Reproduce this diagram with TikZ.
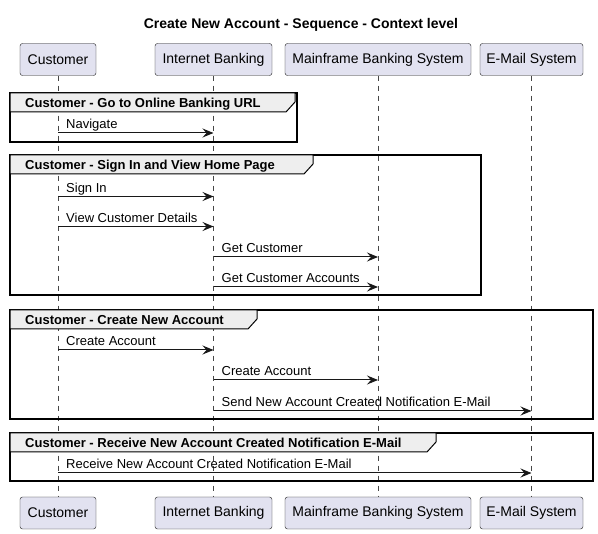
\documentclass[tikz,border=0pt]{standalone}
\usepackage{fontspec}
\setmainfont{Liberation Sans}
\usetikzlibrary{arrows.meta,positioning,calc}
\definecolor{partfill}{HTML}{E2E2F0}
\definecolor{partline}{HTML}{181818}
\definecolor{tabfill}{HTML}{EEEEEE}
\tikzset{
  participant/.style={draw=partline, fill=partfill, rounded corners=2.5pt, minimum height=32pt, inner sep=0pt, font=\fontsize{14}{16}\selectfont},
  lifeline/.style={draw=partline!80, line width=0.5pt, dash pattern=on 5pt off 5pt},
  msg/.style={draw=partline, line width=1pt, -{Stealth[length=11pt,width=9pt,inset=4pt]}},
  msglabel/.style={anchor=base west, inner sep=0pt, font=\fontsize{13}{15}\selectfont},
  grpframe/.style={draw=black, line width=1.5pt},
  grptab/.style={draw=black, line width=1pt, fill=tabfill},
  grplabel/.style={anchor=base west, inner sep=0pt, font=\bfseries\fontsize{13}{15}\selectfont},
}
\begin{document}
\begin{tikzpicture}[x=1pt,y=-1pt]
  \useasboundingbox (0,0) rectangle (598,534);
%%
  % Node: title
  \node[font=\bfseries\fontsize{14}{16}\selectfont] (title) at (301,24.5) {Create New Account - Sequence - Context level};
  % Node: participants (top)
  \node[participant, minimum width=76pt]  (cust) at (58,59.5)  {Customer};
  \node[participant, minimum width=117pt] (ib)   at (213.5,59.5) {Internet Banking};
  \node[participant, minimum width=186pt] (mbs)  at (378,59.5) {Mainframe Banking System};
  \node[participant, minimum width=103pt] (mail) at (531.5,59.5) {E-Mail System};
  % Node: participants (bottom)
  \node[participant, minimum width=76pt]  (custB) at (58,513)  {Customer};
  \node[participant, minimum width=117pt] (ibB)   at (213.5,513) {Internet Banking};
  \node[participant, minimum width=186pt] (mbsB)  at (378,513) {Mainframe Banking System};
  \node[participant, minimum width=103pt] (mailB) at (531.5,513) {E-Mail System};
  % Edge: lifelines
  \draw[lifeline] (cust.south) -- (custB.north);
  \draw[lifeline] (ib.south) -- (ibB.north);
  \draw[lifeline] (mbs.south) -- (mbsB.north);
  \draw[lifeline] (mail.south) -- (mailB.north);
%%
  % Group: Customer - Go to Online Banking URL
\begin{scope}
  \draw[grpframe] (10,93) rectangle (297,142);
  \draw[grptab] (10,93) -- (295,93) -- (295,102) -- (286,112) -- (10,112) -- cycle;
  \node[grplabel] (g1) at (25,107.5) {Customer - Go to Online Banking URL};
  \coordinate (navA) at (cust.south |- 0,133);
  \coordinate (navB) at (ib.south |- 0,133);
  % Edge: Customer -> Internet Banking
  \draw[msg] (navA) -- (navB);
  \node[msglabel] (navL) at ($(navA)+(8,-4)$) {Navigate};
\end{scope}
  % Group: Customer - Sign In and View Home Page
\begin{scope}
  \draw[grpframe] (10,155) rectangle (481,295);
  \draw[grptab] (10,155) -- (313,155) -- (313,164) -- (304,174) -- (10,174) -- cycle;
  \node[grplabel] (g2) at (25,169.5) {Customer - Sign In and View Home Page};
  \coordinate (signA) at (cust.south |- 0,196.5);
  \coordinate (signB) at (ib.south |- 0,196.5);
  \coordinate (viewA) at (cust.south |- 0,226.5);
  \coordinate (viewB) at (ib.south |- 0,226.5);
  \coordinate (getcA) at (ib.south |- 0,257);
  \coordinate (getcB) at (mbs.south |- 0,257);
  \coordinate (getaA) at (ib.south |- 0,287);
  \coordinate (getaB) at (mbs.south |- 0,287);
  % Edge: Customer -> Internet Banking
  \draw[msg] (signA) -- (signB);
  \node[msglabel] (signL) at ($(signA)+(8,-4)$) {Sign In};
  \draw[msg] (viewA) -- (viewB);
  \node[msglabel] (viewL) at ($(viewA)+(8,-4)$) {View Customer Details};
  % Edge: Internet Banking -> Mainframe Banking System
  \draw[msg] (getcA) -- (getcB);
  \node[msglabel] (getcL) at ($(getcA)+(8,-4)$) {Get Customer};
  \draw[msg] (getaA) -- (getaB);
  \node[msglabel] (getaL) at ($(getaA)+(8,-4)$) {Get Customer Accounts};
\end{scope}
  % Group: Customer - Create New Account
\begin{scope}
  \draw[grpframe] (10,310) rectangle (593,419);
  \draw[grptab] (10,310) -- (257,310) -- (257,319) -- (248,329) -- (10,329) -- cycle;
  \node[grplabel] (g3) at (25,324.5) {Customer - Create New Account};
  \coordinate (caA) at (cust.south |- 0,350);
  \coordinate (caB) at (ib.south |- 0,350);
  \coordinate (cbA) at (ib.south |- 0,380);
  \coordinate (cbB) at (mbs.south |- 0,380);
  \coordinate (snA) at (ib.south |- 0,411);
  \coordinate (snB) at (mail.south |- 0,411);
  % Edge: Customer -> Internet Banking
  \draw[msg] (caA) -- (caB);
  \node[msglabel] (caL) at ($(caA)+(8,-4)$) {Create Account};
  % Edge: Internet Banking -> Mainframe Banking System
  \draw[msg] (cbA) -- (cbB);
  \node[msglabel] (cbL) at ($(cbA)+(8,-4)$) {Create Account};
  % Edge: Internet Banking -> E-Mail System
  \draw[msg] (snA) -- (snB);
  \node[msglabel] (snL) at ($(snA)+(8,-4)$) {Send New Account Created Notification E-Mail};
\end{scope}
  % Group: Customer - Receive New Account Created Notification E-Mail
\begin{scope}
  \draw[grpframe] (10,433) rectangle (593,481);
  \draw[grptab] (10,433) -- (436,433) -- (436,442) -- (427,452) -- (10,452) -- cycle;
  \node[grplabel] (g4) at (25,447.5) {Customer - Receive New Account Created Notification E-Mail};
  \coordinate (rcA) at (cust.south |- 0,473);
  \coordinate (rcB) at (mail.south |- 0,473);
  % Edge: Customer -> E-Mail System
  \draw[msg] (rcA) -- (rcB);
  \node[msglabel] (rcL) at ($(rcA)+(8,-4)$) {Receive New Account Created Notification E-Mail};
\end{scope}
%
\end{tikzpicture}
\end{document}
